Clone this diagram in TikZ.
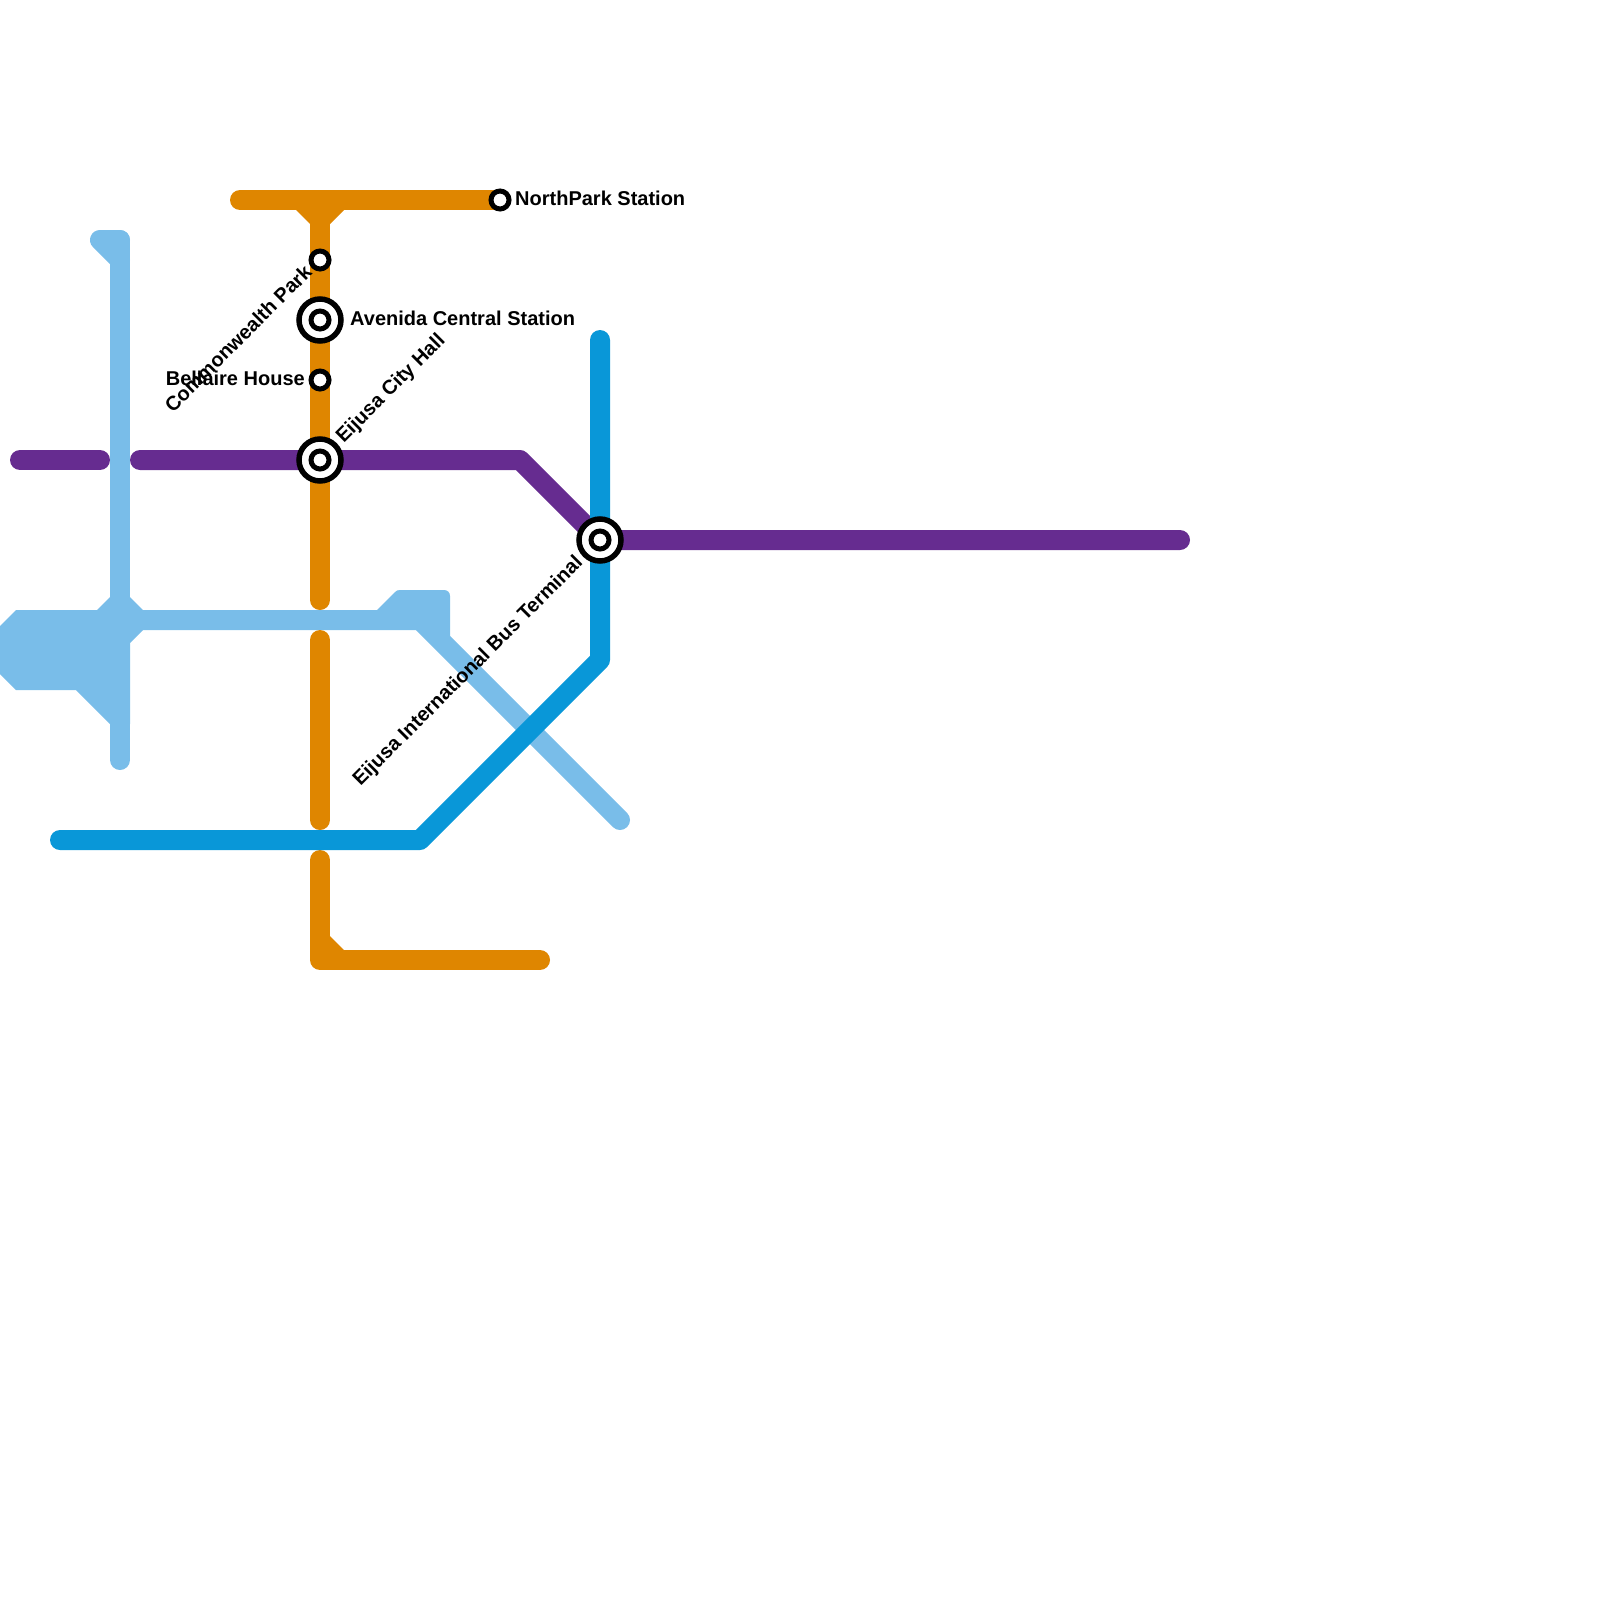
\documentclass[tikz,border=0pt]{standalone}
\usepackage{fontspec}
\setmainfont{Liberation Sans}
\definecolor{lblue}{HTML}{79BDE9}
\definecolor{mblue}{HTML}{0997D8}
\definecolor{orangeL}{HTML}{DF8600}
\definecolor{purpleL}{HTML}{662C90}
\tikzset{
  metro/.style={line width=20pt,line cap=round,line join=round},
  smallst/.style={circle,draw=black,fill=white,line width=5pt,minimum size=18pt,inner sep=0pt},
  bigst/.style={circle,draw=black,fill=white,line width=5.5pt,minimum size=42pt,inner sep=0pt},
  lbl/.style={font=\fontsize{20}{24}\selectfont\bfseries,inner sep=0pt,text=black}
}
\begin{document}
\begin{tikzpicture}[x=1pt,y=-1pt]
\useasboundingbox (0,0) rectangle (1600,1600);
% way points
\coordinate (pa) at (20,460); \coordinate (pb) at (100,460);
\coordinate (pc) at (140,460); \coordinate (pd) at (520,460);
\coordinate (pe) at (600,540); \coordinate (pf) at (1180,540);
\coordinate (oa) at (240,200); \coordinate (ob) at (500,200);
\coordinate (oc) at (320,200); \coordinate (od) at (320,600);
\coordinate (oe) at (320,640); \coordinate (of) at (320,820);
\coordinate (og) at (320,860); \coordinate (oh) at (320,960); \coordinate (oi) at (540,960);
\coordinate (la) at (100,240); \coordinate (lb) at (120,240); \coordinate (lc) at (120,760);
\coordinate (ld) at (120,620); \coordinate (le) at (420,620); \coordinate (lf) at (620,820);
\coordinate (ba) at (600,340); \coordinate (bb) at (600,660);
\coordinate (bc) at (420,840); \coordinate (bd) at (60,840);
% light blue
\fill[lblue] (16,610) -- (97,610) -- (110,597) -- (130,597) -- (143,610) -- (143,630) -- (130,643) -- (130,724) -- (110,724) -- (76,690) -- (16,690) -- (0,674) -- (0,626) -- cycle;
\fill[lblue] (377,610) -- (395,592) .. controls (396.5,590.5) and (398,590) .. (400,590) -- (444,590) .. controls (447.5,590) and (450,592.5) .. (450,596) -- (450,636) -- (416,630) -- cycle;
\draw[metro,lblue] (lb) -- (lc);
\draw[metro,lblue] (lb) -- (la) -- (120,260);
\draw[metro,lblue] (ld) -- (le) -- (lf);
% orange
\fill[orangeL] (296,210) -- (310,224) -- (330,224) -- (344,210) -- cycle;
\fill[orangeL] (330,936) -- (344,950) -- (330,950) -- cycle;
\draw[metro,orangeL] (oa) -- (ob);
\draw[metro,orangeL] (oc) -- (od);
\draw[metro,orangeL] (oe) -- (of);
\draw[metro,orangeL] (og) -- (oh) -- (oi);
% purple
\draw[metro,purpleL] (pa) -- (pb);
\draw[metro,purpleL] (pc) -- (pd) -- (pe) -- (pf);
% blue
\draw[metro,mblue] (ba) -- (bb) -- (bc) -- (bd);
% stations
\node[smallst] (north) at (500,200) {};
\node[smallst] (common) at (320,260) {};
\node[smallst] (bell) at (320,380) {};
\node[bigst] (aveO) at (320,320) {}; \node[smallst] (aveI) at (320,320) {};
\node[bigst] (cityO) at (320,460) {}; \node[smallst] (cityI) at (320,460) {};
\node[bigst] (busO) at (600,540) {}; \node[smallst] (busI) at (600,540) {};
% labels
\node[lbl,anchor=west] (tnorth) at (515,198) {NorthPark Station};
\node[lbl,anchor=west] (tave) at (350,318) {Avenida Central Station};
\node[lbl,anchor=east] (tbell) at (305,378) {Bellaire House};
\node[lbl,anchor=east,rotate=45] (tcommon) at (308,268.5) {Commonwealth Park};
\node[lbl,anchor=west,rotate=45] (tcity) at (340,440) {Eijusa City Hall};
\node[lbl,anchor=east,rotate=45] (tbus) at (580,560) {Eijusa International Bus Terminal};
\end{tikzpicture}
\end{document}
